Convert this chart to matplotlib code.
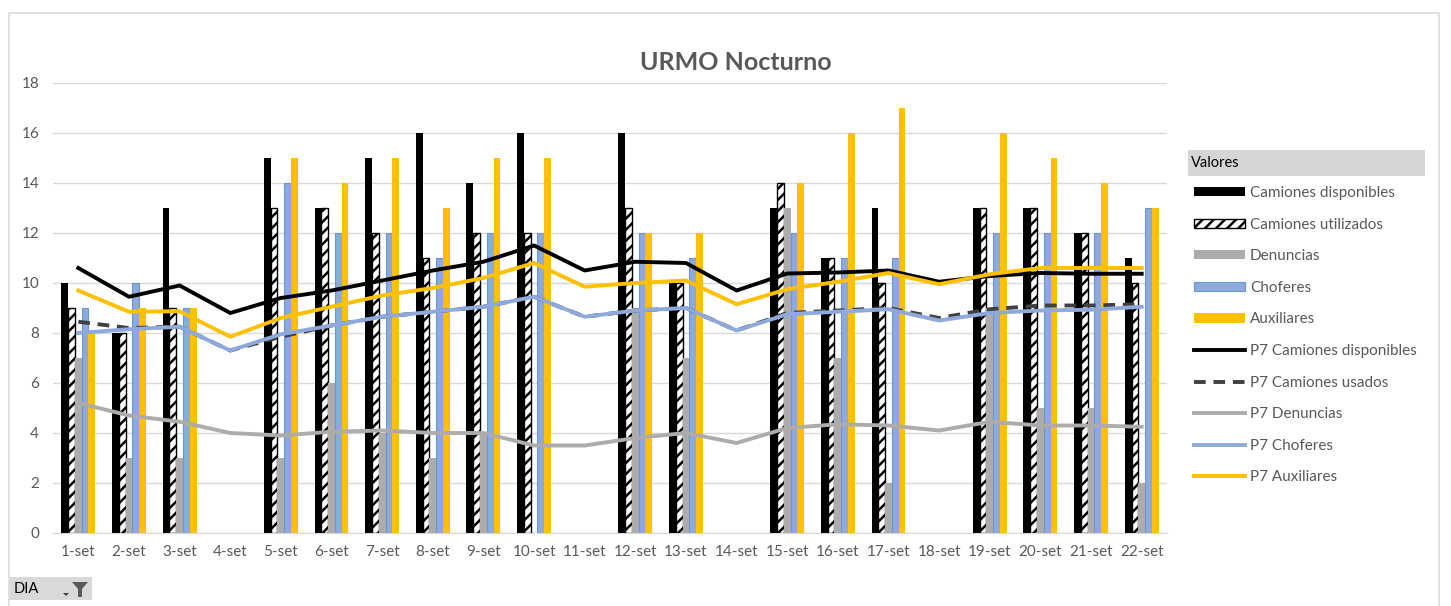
import numpy as np
import matplotlib
matplotlib.use("Agg")
import matplotlib.pyplot as plt
from matplotlib.patches import Rectangle, Polygon

plt.rcParams['font.family'] = ['Lato', 'DejaVu Sans']
plt.rcParams['hatch.linewidth'] = 1.8

dias = ['%d-set' % d for d in range(1, 23)]

# bars (None = no bar that day)
cam_disp = [10, 8, 13, None, 15, 13, 15, 16, 14, 16, None, 16, 10, None, 13, 11, 13, None, 13, 13, 12, 11]
cam_util = [9, 8, 9, None, 13, 13, 12, 11, 12, 12, None, 13, 10, None, 14, 11, 10, None, 13, 13, 12, 10]
denuncias = [7, 3, 3, None, 3, 6, 4, 3, 4, 0, None, 9, 7, None, 13, 7, 2, None, 9, 5, 5, 2]
choferes = [9, 10, 9, None, 14, 12, 12, 11, 12, 12, None, 12, 11, None, 12, 11, 11, None, 12, 12, 12, 13]
auxiliares = [8, 9, 9, None, 15, 14, 15, 13, 15, 15, None, 12, 12, None, 14, 16, 17, None, 16, 15, 14, 13]

# P7 lines
p7_disp = [10.6, 9.45, 9.9, 8.8, 9.4, 9.7, 10.1, 10.5, 10.85, 11.5, 10.5, 10.85, 10.8, 9.7,
           10.38, 10.42, 10.5, 10.05, 10.28, 10.4, 10.37, 10.37]
p7_usados = [8.45, 8.2, 8.25, 7.3, 7.85, 8.3, 8.65, 8.85, 9.05, 9.45, 8.65, 8.9, 9.0, 8.1,
             8.8, 8.9, 9.0, 8.6, 8.95, 9.1, 9.1, 9.15]
p7_denuncias = [5.2, 4.7, 4.45, 4.0, 3.9, 4.05, 4.1, 4.0, 4.0, 3.5, 3.5, 3.8, 4.0, 3.6,
                4.2, 4.35, 4.3, 4.1, 4.45, 4.3, 4.3, 4.25]
p7_choferes = [8.0, 8.15, 8.25, 7.3, 7.95, 8.3, 8.65, 8.85, 9.05, 9.45, 8.65, 8.9, 9.0, 8.1,
               8.75, 8.85, 8.95, 8.5, 8.8, 8.9, 8.93, 9.05]
p7_aux = [9.7, 8.85, 8.87, 7.85, 8.6, 9.05, 9.5, 9.8, 10.2, 10.8, 9.85, 10.0, 10.1, 9.15,
          9.75, 10.05, 10.4, 9.95, 10.35, 10.6, 10.6, 10.6]

GRIS_TXT = '#595959'

fig = plt.figure(figsize=(14.51, 6.06), dpi=100)
ax = fig.add_axes([53 / 1451, 73 / 606, 1114 / 1451, 450 / 606])

x = np.arange(len(dias))
w = 0.134


def vals(lst):
    return np.array([np.nan if v is None else v for v in lst], dtype=float)


bars = []
bars.append(ax.bar(x - 2 * w, vals(cam_disp), w, color='black', label='Camiones disponibles', zorder=2))
bars.append(ax.bar(x - w, vals(cam_util), w, color='white', edgecolor='black', hatch='///',
                   linewidth=1.0, label='Camiones utilizados', zorder=2))
bars.append(ax.bar(x, vals(denuncias), w, color='#AEABAB', label='Denuncias', zorder=2))
bars.append(ax.bar(x + w, vals(choferes), w, color='#8EA9DB', edgecolor='#6A97D0', linewidth=0.8,
                   label='Choferes', zorder=2))
bars.append(ax.bar(x + 2 * w, vals(auxiliares), w, color='#FFC000', label='Auxiliares', zorder=2))

lines = []
lines += ax.plot(x, p7_disp, color='black', lw=2.8, label='P7 Camiones disponibles', zorder=3)
lines += ax.plot(x, p7_usados, color='#404040', lw=2.8, ls=(0, (3, 2)), label='P7 Camiones usados', zorder=3)
lines += ax.plot(x, p7_denuncias, color='#AEABAB', lw=2.8, label='P7 Denuncias', zorder=3)
lines += ax.plot(x, p7_choferes, color='#8EA9DB', lw=2.8, label='P7 Choferes', zorder=3)
lines += ax.plot(x, p7_aux, color='#FFC000', lw=2.8, label='P7 Auxiliares', zorder=3)

ax.set_xlim(-0.5, len(dias) - 0.5)
ax.set_ylim(0, 18)
ax.set_yticks(range(0, 19, 2))
ax.set_xticks(x)
ax.set_xticklabels(dias)
ax.tick_params(axis='both', length=0, labelsize=11, labelcolor=GRIS_TXT)
ax.tick_params(axis='y', pad=10)
ax.tick_params(axis='x', pad=9)
ax.grid(axis='y', color='#D9D9D9', lw=1.0, zorder=0)
ax.set_axisbelow(True)
for s in ['top', 'right', 'left']:
    ax.spines[s].set_visible(False)
ax.spines['bottom'].set_color('#D9D9D9')

fig.text(736 / 1451, 1 - 62 / 606, 'URMO Nocturno', ha='center', va='center',
         fontsize=18, fontweight='bold', color=GRIS_TXT)

# outer frame
fig.patches.append(Rectangle((9 / 1451, -0.05), 1430 / 1451, 1.05 - 13 / 606,
                             transform=fig.transFigure, fill=False, ec='#D9D9D9', lw=1.2))

# legend header
fig.patches.append(Rectangle((1188 / 1451, 1 - 176 / 606), 237 / 1451, 26 / 606,
                             transform=fig.transFigure, fc='#D6D6D6', ec='none'))
fig.text(1191 / 1451, 1 - 163 / 606, 'Valores', ha='left', va='center', fontsize=10.5,
         color='black')

handles = bars + lines
labels = [h.get_label() for h in handles]
leg = fig.legend(handles, labels, loc='upper left', bbox_to_anchor=(1188 / 1451, 1 - 180 / 606),
                 frameon=False, fontsize=11, labelcolor=GRIS_TXT, handlelength=3.3,
                 handleheight=0.55, handletextpad=0.35, labelspacing=1.15, borderaxespad=0)

# DIA field button
fig.patches.append(Rectangle((10 / 1451, 1 - 600 / 606), 82 / 1451, 23 / 606,
                             transform=fig.transFigure, fc='#D9D9D9', ec='none'))
fig.text(14 / 1451, 1 - 589 / 606, 'DIA', ha='left', va='center', fontsize=10.5, color='black')
fig.patches.append(Polygon([(72 / 1451, 1 - 582 / 606), (88 / 1451, 1 - 582 / 606),
                            (82 / 1451, 1 - 589 / 606), (82 / 1451, 1 - 597 / 606),
                            (78 / 1451, 1 - 597 / 606), (78 / 1451, 1 - 589 / 606)],
                           closed=True, transform=fig.transFigure, fc='#595959', ec='none'))
fig.patches.append(Polygon([(63 / 1451, 1 - 593 / 606), (69 / 1451, 1 - 593 / 606),
                            (66 / 1451, 1 - 596 / 606)],
                           closed=True, transform=fig.transFigure, fc='#404040', ec='none'))

fig.savefig('out.png', dpi=100)
